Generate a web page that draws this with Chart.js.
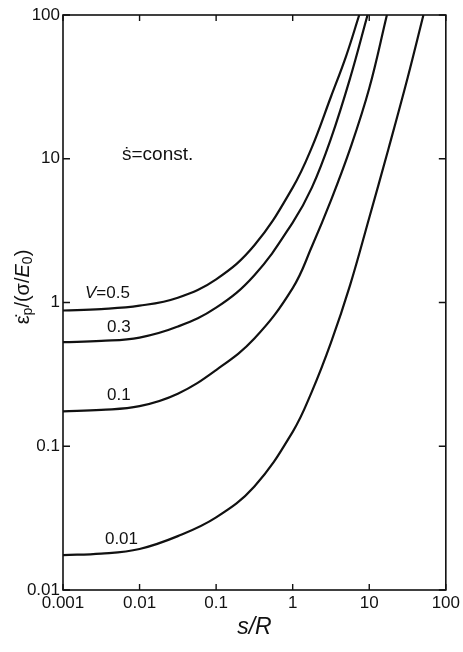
<!DOCTYPE html>
<html>
<head>
<meta charset="utf-8">
<script src="https://cdn.jsdelivr.net/npm/chart.js@4.4.0/dist/chart.umd.min.js"></script>
<style>
    html, body { margin: 0; padding: 0; background: #fff; }
    .chart-container { width: 463px; height: 652px; position: relative; }
</style>
</head>
<body>
<div class="chart-container"><canvas id="strainChart"></canvas></div>
<script>
// axis ticks
const xTicks = [0.001, 0.01, 0.1, 1, 10, 100];
const xTickLabels = ['0.001', '0.01', '0.1', '1', '10', '100'];
const yTicks = [0.01, 0.1, 1, 10, 100];
const yTickLabels = ['0.01', '0.1', '1', '10', '100'];

// s/R and strain rate, one pair per V
const sV05 = [0.001, 0.00316, 0.01, 0.0316, 0.1, 0.316, 1, 1.78, 3.16, 5.0, 7.4];
const epsV05 = [0.88, 0.90, 0.95, 1.08, 1.45, 2.5, 6.3, 12, 27, 52, 100];

const sV03 = [0.001, 0.00316, 0.01, 0.0316, 0.1, 0.316, 1, 1.78, 3.16, 5.62, 9.5];
const epsV03 = [0.53, 0.54, 0.57, 0.68, 0.92, 1.55, 3.6, 6.3, 13.8, 36.3, 100];

const sV01 = [0.001, 0.00316, 0.01, 0.0316, 0.1, 0.316, 1, 1.78, 3.16, 5.62, 10, 17];
const epsV01 = [0.175, 0.179, 0.19, 0.232, 0.339, 0.562, 1.26, 2.45, 5.13, 11.7, 30.9, 100];

const sV001 = [0.001, 0.00316, 0.01, 0.0316, 0.1, 0.316, 1, 1.78, 3.16, 5.62, 10, 17.8, 31.6, 51];
const epsV001 = [0.0175, 0.0179, 0.0193, 0.0237, 0.032, 0.0525, 0.126, 0.24, 0.525, 1.32, 3.89, 11.7, 36.3, 100];

const seriesNames = ['V=0.5', '0.3', '0.1', '0.01'];

function toPoints(xs, ys) {
    return xs.map((v, i) => ({ x: v, y: ys[i] }));
}

function curve(label, xs, ys) {
    return {
        label: label,
        data: toPoints(xs, ys),
        showLine: true,
        borderColor: '#111',
        borderWidth: 2.2,
        pointRadius: 0,
        tension: 0.4,
        fill: false
    };
}

const FONT = '"Liberation Sans", Arial, sans-serif';

// text placed next to the curves (data coordinates, left/middle anchored)
const notes = [
    { text: '0.3', x: 0.00375, y: 0.676 },
    { text: '0.1', x: 0.00375, y: 0.2275 },
    { text: '0.01', x: 0.00353, y: 0.0227 }
];

const framePlugin = {
    id: 'frame',
    afterDraw(chart) {
        const ctx = chart.ctx;
        const a = chart.chartArea;
        const x = chart.scales.x;
        const y = chart.scales.y;
        ctx.save();
        ctx.strokeStyle = '#111';
        ctx.lineWidth = 1.6;
        ctx.strokeRect(a.left, a.top, a.right - a.left, a.bottom - a.top);

        ctx.lineWidth = 1.4;
        ctx.beginPath();
        xTicks.forEach(v => {
            const px = x.getPixelForValue(v);
            ctx.moveTo(px, a.bottom); ctx.lineTo(px, a.bottom - 6);
            ctx.moveTo(px, a.top); ctx.lineTo(px, a.top + 6);
        });
        yTicks.forEach(v => {
            const py = y.getPixelForValue(v);
            ctx.moveTo(a.left, py); ctx.lineTo(a.left + 7, py);
            ctx.moveTo(a.right, py); ctx.lineTo(a.right - 7, py);
        });
        ctx.stroke();

        ctx.fillStyle = '#111';
        ctx.textBaseline = 'middle';
        ctx.textAlign = 'left';

        // V=0.5 with italic V
        let lx = x.getPixelForValue(0.00194);
        let ly = y.getPixelForValue(1.16);
        ctx.font = 'italic 17px ' + FONT;
        ctx.fillText('V', lx, ly);
        lx += ctx.measureText('V').width;
        ctx.font = '17px ' + FONT;
        ctx.fillText('=0.5', lx, ly);

        notes.forEach(n => {
            ctx.fillText(n.text, x.getPixelForValue(n.x), y.getPixelForValue(n.y));
        });

        ctx.font = '19px ' + FONT;
        ctx.fillText('ṡ=const.', x.getPixelForValue(0.0059), y.getPixelForValue(10.6));

        // x title
        ctx.font = 'italic 23px ' + FONT;
        ctx.textAlign = 'center';
        ctx.fillText('s/R', (a.left + a.right) / 2, 628);

        // y title, rotated, with subscripts
        ctx.translate(23, 287);
        ctx.rotate(-Math.PI / 2);
        const parts = [
            { t: 'ε̇', f: '20px ', dy: 0 },
            { t: 'p', f: '14px ', dy: 5 },
            { t: '/(σ/', f: '20px ', dy: 0 },
            { t: 'E', f: 'italic 20px ', dy: 0 },
            { t: '0', f: '14px ', dy: 5 },
            { t: ')', f: '20px ', dy: 0 }
        ];
        let w = 0;
        parts.forEach(p => { ctx.font = p.f + FONT; w += ctx.measureText(p.t).width; });
        let cx = -w / 2;
        ctx.textAlign = 'left';
        parts.forEach(p => {
            ctx.font = p.f + FONT;
            ctx.fillText(p.t, cx, p.dy);
            cx += ctx.measureText(p.t).width;
        });
        ctx.restore();
    }
};

new Chart(document.getElementById('strainChart'), {
    type: 'scatter',
    data: {
        datasets: [
            curve(seriesNames[0], sV05, epsV05),
            curve(seriesNames[1], sV03, epsV03),
            curve(seriesNames[2], sV01, epsV01),
            curve(seriesNames[3], sV001, epsV001)
        ]
    },
    options: {
        responsive: true,
        maintainAspectRatio: false,
        animation: false,
        layout: { padding: { left: 0, right: 17, top: 15, bottom: 0 } },
        plugins: {
            legend: { display: false },
            tooltip: { enabled: false }
        },
        scales: {
            x: {
                type: 'logarithmic',
                min: 0.001,
                max: 100,
                afterBuildTicks: s => { s.ticks = xTicks.map(v => ({ value: v })); },
                afterFit: s => { s.height = 62; },
                grid: { display: false, drawTicks: false },
                border: { display: false },
                ticks: {
                    autoSkip: false,
                    maxRotation: 0,
                    padding: 3,
                    color: '#111',
                    font: { family: FONT, size: 17 },
                    callback: (v, i) => xTickLabels[i]
                }
            },
            y: {
                type: 'logarithmic',
                min: 0.01,
                max: 100,
                afterBuildTicks: s => { s.ticks = yTicks.map(v => ({ value: v })); },
                afterFit: s => { s.width = 63; },
                grid: { display: false, drawTicks: false },
                border: { display: false },
                ticks: {
                    autoSkip: false,
                    padding: 3,
                    color: '#111',
                    font: { family: FONT, size: 17 },
                    callback: (v, i) => yTickLabels[i]
                }
            }
        }
    },
    plugins: [framePlugin]
});
</script>
</body>
</html>
